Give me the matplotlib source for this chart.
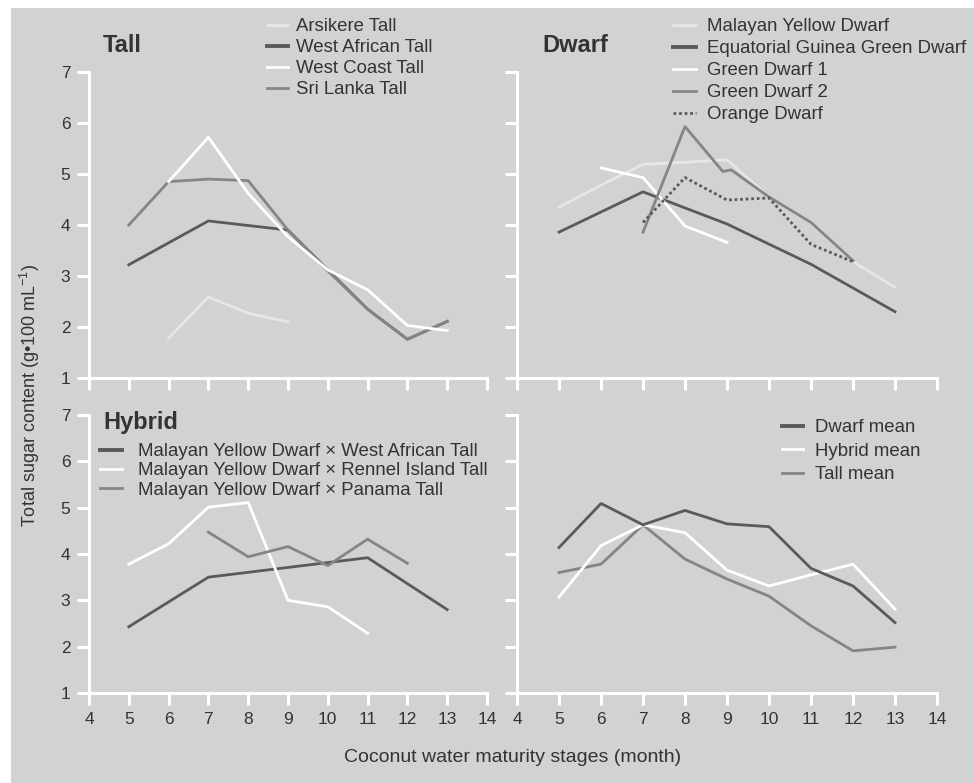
import matplotlib.pyplot as plt
from matplotlib.patches import Rectangle

plt.rcParams['font.family'] = ['Liberation Sans', 'DejaVu Sans']
plt.rcParams['mathtext.fontset'] = 'custom'
plt.rcParams['mathtext.rm'] = 'Liberation Sans'

# ---- data (month, total sugar g/100 mL) ----
# Tall
arsikere_x = [6, 7, 8, 9]
arsikere_y = [1.78, 2.59, 2.27, 2.10]
wat_x = [5, 7, 9, 10, 11, 12, 13]
wat_y = [3.22, 4.08, 3.90, 3.12, 2.35, 1.76, 2.11]
wct_x = [6, 7, 8, 9, 10, 11, 12, 13]
wct_y = [4.85, 5.72, 4.62, 3.77, 3.12, 2.73, 2.03, 1.93]
slt_x = [5, 6, 7, 8, 9, 10, 11, 12, 13]
slt_y = [4.00, 4.85, 4.90, 4.87, 3.90, 3.10, 2.35, 1.76, 2.11]

# Dwarf
myd_x = [5, 6, 7, 8, 9, 10, 11, 12, 13]
myd_y = [4.35, 4.78, 5.19, 5.23, 5.28, 4.55, 4.05, 3.28, 2.78]
eggd_x = [5, 7, 9, 11, 13]
eggd_y = [3.86, 4.65, 4.02, 3.23, 2.30]
gd1_x = [6, 7, 8, 9]
gd1_y = [5.12, 4.93, 3.98, 3.66]
gd2_x = [7, 8, 8.9, 9.1, 10, 11, 12]
gd2_y = [3.86, 5.93, 5.05, 5.08, 4.55, 4.05, 3.30]
od_x = [7, 8, 9, 10, 11, 12]
od_y = [4.05, 4.93, 4.49, 4.53, 3.62, 3.28]

# Hybrid
h_wat_x = [5, 7, 11, 13]
h_wat_y = [2.43, 3.50, 3.92, 2.80]
h_rit_x = [5, 6, 7, 8, 9, 10, 11]
h_rit_y = [3.78, 4.22, 5.01, 5.11, 3.00, 2.86, 2.29]
h_pt_x = [7, 8, 9, 10, 11, 12]
h_pt_y = [4.47, 3.94, 4.16, 3.75, 4.32, 3.80]

# Means
mean_x = [5, 6, 7, 8, 9, 10, 11, 12, 13]
dwarf_mean = [4.14, 5.09, 4.63, 4.94, 4.65, 4.59, 3.69, 3.31, 2.52]
hybrid_mean = [3.07, 4.18, 4.63, 4.46, 3.65, 3.31, 3.55, 3.78, 2.81]
tall_mean = [3.60, 3.78, 4.63, 3.89, 3.46, 3.09, 2.45, 1.91, 1.99]

BG = '#d1d2d4'
DARK = '#5a5a5a'
MID = '#858585'
LIGHT = '#e6e6e6'
WHITE = '#ffffff'
TXT = '#333333'

W, H = 974, 783
fig = plt.figure(figsize=(W / 100, H / 100), dpi=100, facecolor='white')
fig.patches.append(Rectangle((11 / W, 0), 1 - 11 / W, 1 - 8 / H,
                             transform=fig.transFigure, facecolor=BG,
                             edgecolor='none', zorder=-10))


def px_axes(x0, x1, ytop, ybot):
    return fig.add_axes([x0 / W, 1 - ybot / H, (x1 - x0) / W, (ybot - ytop) / H])


ax_tall = px_axes(89, 487, 72, 378)
ax_dwarf = px_axes(517, 937, 72, 378)
ax_hyb = px_axes(89, 487, 415, 693)
ax_mean = px_axes(517, 937, 415, 693)

for ax in [ax_tall, ax_dwarf, ax_hyb, ax_mean]:
    ax.set_facecolor('none')
    ax.set_xlim(4, 14)
    ax.set_ylim(1, 7)
    ax.set_xticks(range(4, 15))
    ax.set_yticks(range(1, 8))
    for s in ['top', 'right']:
        ax.spines[s].set_visible(False)
    for s in ['left', 'bottom']:
        ax.spines[s].set_color(WHITE)
        ax.spines[s].set_linewidth(2.2)
    ax.tick_params(direction='out', color=WHITE, width=2.2, length=8.5,
                   labelsize=12.5, labelcolor=TXT, pad=5)

for ax in [ax_tall, ax_dwarf]:
    ax.tick_params(axis='x', labelbottom=False)
for ax in [ax_dwarf, ax_mean]:
    ax.tick_params(axis='y', labelleft=False)

lw = 2.0

ax_tall.plot(arsikere_x, arsikere_y, color=LIGHT, lw=lw, label='Arsikere Tall')
ax_tall.plot(wat_x, wat_y, color=DARK, lw=lw, label='West African Tall')
ax_tall.plot(slt_x, slt_y, color=MID, lw=lw, label='Sri Lanka Tall')
ax_tall.plot(wct_x, wct_y, color=WHITE, lw=lw, label='West Coast Tall')

ax_dwarf.plot(myd_x, myd_y, color=LIGHT, lw=lw, label='Malayan Yellow Dwarf')
ax_dwarf.plot(eggd_x, eggd_y, color=DARK, lw=lw, label='Equatorial Guinea Green Dwarf')
ax_dwarf.plot(gd1_x, gd1_y, color=WHITE, lw=lw, label='Green Dwarf 1')
ax_dwarf.plot(gd2_x, gd2_y, color=MID, lw=lw, label='Green Dwarf 2')
ax_dwarf.plot(od_x, od_y, color=DARK, lw=lw, ls=(0, (1, 1)), label='Orange Dwarf')

ax_hyb.plot(h_wat_x, h_wat_y, color=DARK, lw=lw,
            label='Malayan Yellow Dwarf \u00d7 West African Tall')
ax_hyb.plot(h_rit_x, h_rit_y, color=WHITE, lw=lw,
            label='Malayan Yellow Dwarf \u00d7 Rennel Island Tall')
ax_hyb.plot(h_pt_x, h_pt_y, color=MID, lw=lw,
            label='Malayan Yellow Dwarf \u00d7 Panama Tall')

ax_mean.plot(mean_x, tall_mean, color=MID, lw=lw, label='Tall mean')
ax_mean.plot(mean_x, hybrid_mean, color=WHITE, lw=lw, label='Hybrid mean')
ax_mean.plot(mean_x, dwarf_mean, color=DARK, lw=lw, label='Dwarf mean')


def legend(ax, order, x, y, spacing, hlen, pad):
    h, l = ax.get_legend_handles_labels()
    d = dict(zip(l, h))
    leg = ax.legend([d[k] for k in order], order, loc='upper left',
                    bbox_to_anchor=(x / W, 1 - y / H), bbox_transform=fig.transFigure,
                    frameon=False, fontsize=13.4, handlelength=hlen,
                    handletextpad=pad, labelspacing=spacing, borderpad=0,
                    borderaxespad=0)
    for t in leg.get_texts():
        t.set_color(TXT)
    for ln in leg.get_lines():
        ln.set_linewidth(2.8 if ln.get_color() == DARK and ln.get_linestyle() == '-' else 2.0)


legend(ax_tall, ['Arsikere Tall', 'West African Tall', 'West Coast Tall', 'Sri Lanka Tall'],
       267, 18, 0.22, 1.15, 0.43)
legend(ax_dwarf, ['Malayan Yellow Dwarf', 'Equatorial Guinea Green Dwarf', 'Green Dwarf 1',
                  'Green Dwarf 2', 'Orange Dwarf'], 673, 18, 0.27, 1.24, 0.6)
legend(ax_hyb, ['Malayan Yellow Dwarf \u00d7 West African Tall',
                'Malayan Yellow Dwarf \u00d7 Rennel Island Tall',
                'Malayan Yellow Dwarf \u00d7 Panama Tall'], 100, 443, 0.13, 1.2, 0.86)
legend(ax_mean, ['Dwarf mean', 'Hybrid mean', 'Tall mean'], 782, 419, 0.36, 1.13, 0.65)

fig.text(103 / W, 1 - 45 / H, 'Tall', fontsize=17, fontweight='bold', color=TXT, va='center')
fig.text(542 / W, 1 - 46 / H, 'Dwarf', fontsize=17, fontweight='bold', color=TXT, va='center')
fig.text(103 / W, 1 - 423 / H, 'Hybrid', fontsize=17, fontweight='bold', color=TXT, va='center')

fig.text(30 / W, 1 - 395 / H, 'Total sugar content (g\u2022100 mL$^{\u22121}$)', fontsize=13,
         color=TXT, rotation=90, ha='center', va='center')
fig.text(513 / W, 1 - 758 / H, 'Coconut water maturity stages (month)', fontsize=14,
         color=TXT, ha='center', va='center')

fig.savefig('out.png', dpi=100, facecolor='white')
